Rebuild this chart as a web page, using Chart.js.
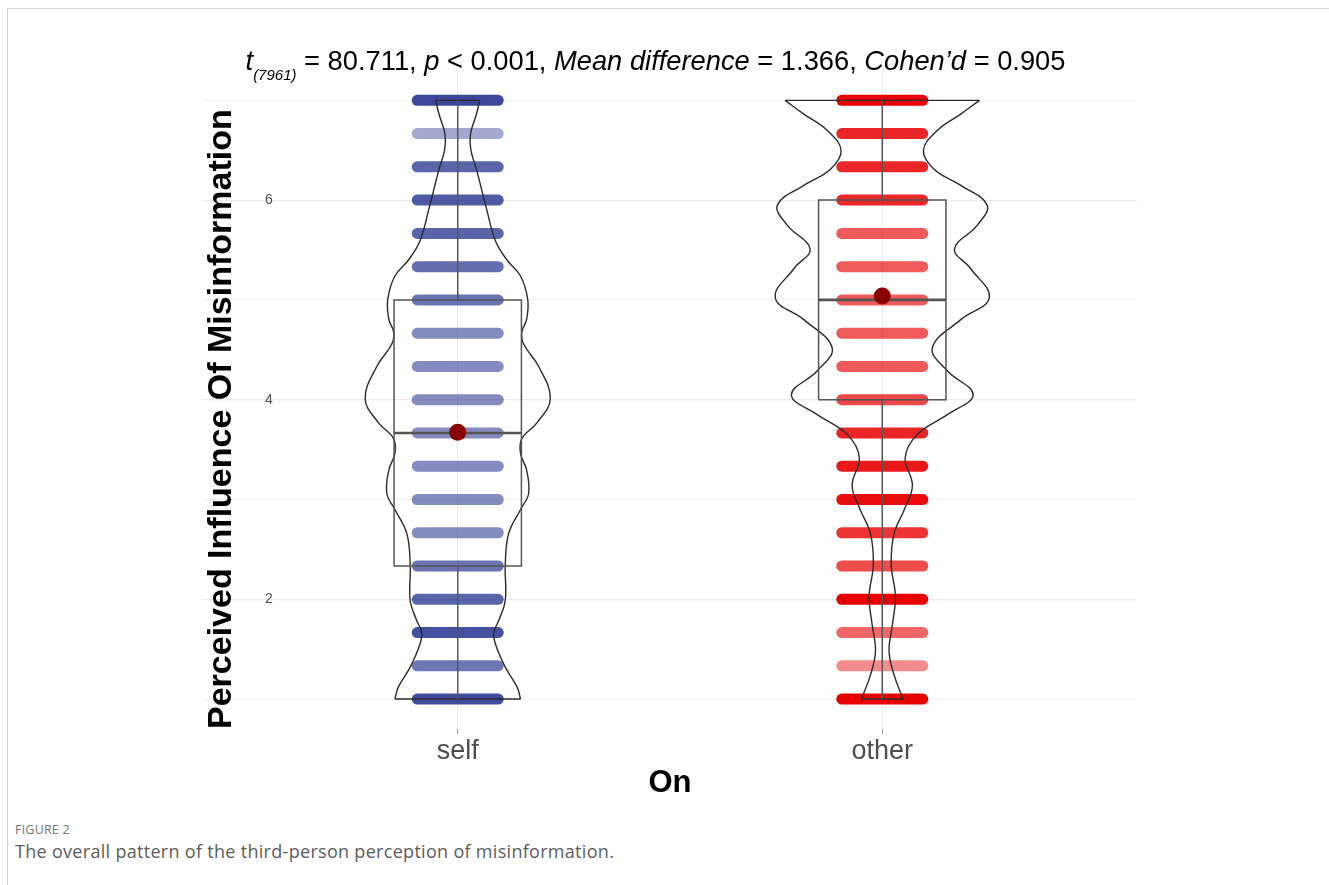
<!DOCTYPE html>
<html>
<head>
<meta charset="utf-8">
<script src="https://cdn.jsdelivr.net/npm/chart.js@4.4.1/dist/chart.umd.min.js"></script>
<style>
  html, body { margin:0; padding:0; background:#fff; width:1329px; height:885px; overflow:hidden; }
  #frame { position:absolute; left:7px; top:8px; width:1400px; height:1000px; border-left:1px solid #d4d4d4; border-top:1px solid #d4d4d4; }
  #wrap { position:absolute; left:0; top:0; width:1329px; height:810px; }
  #title { position:absolute; left:0; top:47px; width:1311px; text-align:center; font-family:"Liberation Sans", Arial, sans-serif; font-size:27.3px; line-height:1; white-space:nowrap; color:#000; }
  #title .sub { font-size:15px; font-style:italic; position:relative; top:10px; }
  #figlabel { position:absolute; left:15px; top:821px; font-family:"Open Sans", sans-serif; font-size:12.5px; color:#747474; letter-spacing:0.2px; }
  #caption { position:absolute; left:15px; top:839px; font-family:"Open Sans", sans-serif; font-size:18px; letter-spacing:0.3px; color:#5c5c5c; }
</style>
</head>
<body>
<div id="frame"></div>
<div id="wrap"><canvas id="c" width="1329" height="810"></canvas></div>
<div id="title"><i>t</i><span class="sub">(7961)</span> = 80.711, <i>p</i> &lt; 0.001, <i>Mean difference</i> = 1.366, <i>Cohen’d</i> = 0.905</div>
<div id="figlabel">FIGURE 2</div>
<div id="caption">The overall pattern of the third-person perception of misinformation.</div>
<script>
// ---- data ----
const categories = ['self', 'other'];
const yTicks = [1, 2, 3, 4, 5, 6, 7];
const yLabeled = [2, 4, 6];

// response levels (bottom -> top)
const levels = [1, 4/3, 5/3, 2, 7/3, 8/3, 3, 10/3, 11/3, 4, 13/3, 14/3, 5, 16/3, 17/3, 6, 19/3, 20/3, 7];
// visual density (opacity) of the jittered point band at each level
const selfBandAlpha  = [0.92, 0.70, 0.90, 0.80, 0.72, 0.60, 0.60, 0.60, 0.60, 0.60, 0.60, 0.60, 0.72, 0.75, 0.80, 0.85, 0.80, 0.45, 0.95];
const otherBandAlpha = [1.00, 0.45, 0.60, 1.00, 0.70, 0.80, 0.95, 0.90, 0.85, 0.72, 0.65, 0.65, 0.65, 0.65, 0.65, 0.85, 0.85, 0.85, 1.00];

// violin outlines: value and half width (category units), top -> bottom
const selfViolinY    = [7.00, 6.86, 6.66, 6.50, 6.31, 5.91, 5.59, 5.40, 5.24, 5.00, 4.80, 4.68, 4.56, 4.33, 4.01, 3.77, 3.61, 3.46, 3.30, 3.06, 2.90, 2.66, 2.35, 1.99, 1.79, 1.67, 1.55, 1.32, 1.12, 1.00];
const selfViolinHalf = [0.052, 0.044, 0.030, 0.031, 0.044, 0.068, 0.089, 0.116, 0.148, 0.165, 0.162, 0.151, 0.155, 0.191, 0.218, 0.187, 0.151, 0.148, 0.162, 0.167, 0.148, 0.120, 0.112, 0.112, 0.097, 0.085, 0.089, 0.112, 0.140, 0.148];
const otherViolinY    = [7.00, 6.86, 6.70, 6.50, 6.31, 6.15, 5.95, 5.75, 5.51, 5.32, 5.02, 4.80, 4.52, 4.29, 4.05, 3.85, 3.65, 3.42, 3.14, 2.90, 2.66, 2.35, 2.03, 1.75, 1.48, 1.24, 1.00];
const otherViolinHalf = [0.229, 0.184, 0.130, 0.097, 0.122, 0.184, 0.247, 0.224, 0.170, 0.207, 0.252, 0.184, 0.118, 0.153, 0.214, 0.153, 0.082, 0.054, 0.071, 0.052, 0.028, 0.021, 0.031, 0.024, 0.016, 0.028, 0.049];

// box plot statistics per category
const boxMin    = [1, 1];
const boxQ1     = [2.333, 4];
const boxMedian = [3.667, 5];
const boxQ3     = [5, 6];
const boxMax    = [7, 7];
const means     = [3.674, 5.040];

// ---- styling ----
const FONT = '"Liberation Sans", Arial, Helvetica, sans-serif';
const selfRGB = [48, 62, 148];
const otherRGB = [232, 0, 0];
const bandHalf = 0.0954;
const boxHalf = 0.15;

const datasets = [];
function lineDs(data, color, width, order, extra) {
  return Object.assign({ type:'scatter', data, showLine:true, borderColor:color, backgroundColor:color,
    borderWidth:width, pointRadius:0, pointHoverRadius:0, order, tension:0 }, extra || {});
}
// point bands
[[1, selfBandAlpha, selfRGB], [2, otherBandAlpha, otherRGB]].forEach(([cx, alphas, rgb]) => {
  levels.forEach((v, i) => {
    datasets.push(lineDs([{x:cx - bandHalf, y:v}, {x:cx + bandHalf, y:v}],
      `rgba(${rgb[0]},${rgb[1]},${rgb[2]},${alphas[i]})`, 11, 5, { borderCapStyle:'round' }));
  });
});
// violins
[[1, selfViolinY, selfViolinHalf], [2, otherViolinY, otherViolinHalf]].forEach(([cx, ys, hs]) => {
  const n = ys.length;
  datasets.push(lineDs(ys.map((y, i) => ({x:cx + hs[i], y})), '#2b2b2b', 1.4, 3, { tension:0.4 }));
  datasets.push(lineDs(ys.map((y, i) => ({x:cx - hs[i], y})), '#2b2b2b', 1.4, 3, { tension:0.4 }));
  datasets.push(lineDs([{x:cx - hs[0], y:ys[0]}, {x:cx + hs[0], y:ys[0]}], '#2b2b2b', 1.4, 3));
  datasets.push(lineDs([{x:cx - hs[n-1], y:ys[n-1]}, {x:cx + hs[n-1], y:ys[n-1]}], '#2b2b2b', 1.4, 3));
});
// boxes
categories.forEach((c, i) => {
  const cx = i + 1;
  datasets.push(lineDs([
    {x:cx - boxHalf, y:boxQ1[i]}, {x:cx + boxHalf, y:boxQ1[i]}, {x:cx + boxHalf, y:boxQ3[i]},
    {x:cx - boxHalf, y:boxQ3[i]}, {x:cx - boxHalf, y:boxQ1[i]}], '#555555', 1.5, 2));
  datasets.push(lineDs([{x:cx - boxHalf, y:boxMedian[i]}, {x:cx + boxHalf, y:boxMedian[i]}], '#555555', 2.6, 2));
  datasets.push(lineDs([{x:cx, y:boxQ3[i]}, {x:cx, y:boxMax[i]}], '#555555', 1.5, 2));
  datasets.push(lineDs([{x:cx, y:boxQ1[i]}, {x:cx, y:boxMin[i]}], '#555555', 1.5, 2));
});
// means
datasets.push({ type:'scatter', data: means.map((m, i) => ({x:i + 1, y:m})), pointRadius:8.5, pointHoverRadius:8.5,
  backgroundColor:'#8b0000', borderColor:'#8b0000', borderWidth:0, order:1 });

new Chart(document.getElementById('c'), {
  type:'scatter',
  data:{ datasets },
  options:{
    responsive:false, animation:false, devicePixelRatio:1, events:[],
    layout:{ padding:{ left:0, right:192, top:70, bottom:0 } },
    plugins:{ legend:{display:false}, tooltip:{enabled:false}, title:{display:false} },
    scales:{
      x:{
        type:'linear', min:0.4, max:2.6,
        afterBuildTicks: s => { s.ticks = categories.map((c, i) => ({value:i + 1})); },
        afterFit: s => { s.height = 81; },
        ticks:{ callback: v => categories[Math.round(v) - 1], font:{family:FONT, size:27}, color:'#4d4d4d', padding:1, maxRotation:0, autoSkip:false },
        grid:{ color:'#ebebeb', lineWidth:1, drawTicks:true, tickLength:5, tickColor:'#999999' },
        border:{ display:false },
        title:{ display:true, text:'On', font:{family:FONT, size:31, weight:'bold'}, color:'#000', padding:{top:0, bottom:8} }
      },
      y:{
        type:'linear', min:0.7, max:7.3,
        afterBuildTicks: s => { s.ticks = yTicks.map(v => ({value:v})); },
        afterFit: s => { s.width = 203; },
        ticks:{ mirror:true, padding:62, callback: v => (yLabeled.includes(v) ? String(v) : ''), font:{family:FONT, size:14}, color:'#4d4d4d' },
        grid:{ color:'#ebebeb', lineWidth: ctx => (ctx.tick && yLabeled.includes(ctx.tick.value) ? 1.2 : 0.8), drawTicks:false },
        border:{ display:false },
        title:{ display:true, align:'start', text:'Perceived Influence Of Misinformation', font:{family:FONT, size:34, weight:'bold'}, color:'#000', padding:{top:201, bottom:0} }
      }
    }
  }
});
</script>
</body>
</html>
